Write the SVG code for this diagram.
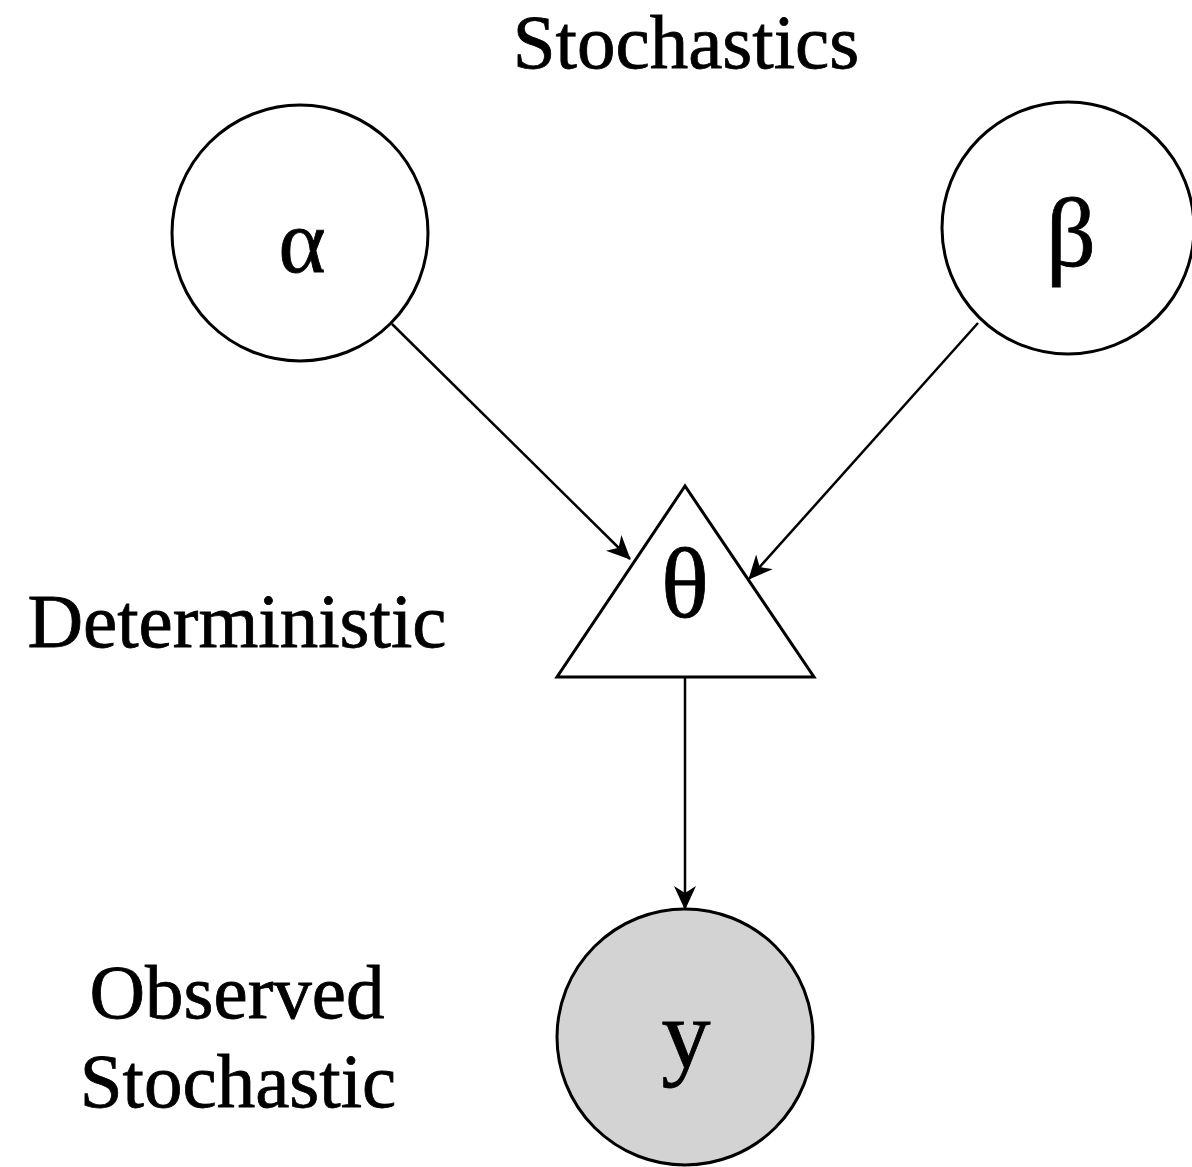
<svg xmlns="http://www.w3.org/2000/svg" width="1192" height="1167" viewBox="0 0 1192 1167">
<style>
.node{fill:#fff;stroke:#000;stroke-width:3}
.obs{fill:#d3d3d3;stroke:#000;stroke-width:3}
.edge{fill:none;stroke:#000;stroke-width:2.5}
text{font-family:"Liberation Serif","Times New Roman",serif;fill:#000;stroke:#000;stroke-width:0.8}
.lbl{font-size:77px}
.sym{text-anchor:middle}
</style>
<defs>
<marker id="arr" markerWidth="24" markerHeight="22" refX="23" refY="11" orient="auto" markerUnits="userSpaceOnUse" viewBox="0 0 24 22">
<path d="M0,0 L24,11 L0,22 L7,11 Z" fill="#000"/>
</marker>
</defs>
<rect width="1192" height="1167" fill="#fff"/>
<g id="connectors">
<line class="edge" x1="392" y1="324" x2="630" y2="559" marker-end="url(#arr)"/>
<line class="edge" x1="978" y1="323" x2="749" y2="579" marker-end="url(#arr)"/>
<line class="edge" x1="685" y1="677" x2="685" y2="909" marker-end="url(#arr)"/>
</g>
<g id="alpha">
<circle class="node" cx="300" cy="233" r="128"/>
<text class="sym" x="302" y="272" font-size="90">α</text>
</g>
<g id="beta">
<circle class="node" cx="1068" cy="228" r="126"/>
<text class="sym" x="1071" y="266" font-size="98">β</text>
</g>
<g id="theta">
<polygon class="node" points="685,486 557,677 814,677"/>
<text class="sym" x="685" y="617" font-size="100">θ</text>
</g>
<g id="y">
<circle class="obs" cx="685" cy="1037" r="128"/>
<text class="sym" x="686" y="1067" font-size="98">y</text>
</g>
<g id="labels">
<text class="lbl" x="686" y="68" text-anchor="middle">Stochastics</text>
<text class="lbl" x="237" y="647" text-anchor="middle">Deterministic</text>
<text class="lbl" x="237" y="1018" text-anchor="middle">Observed</text>
<text class="lbl" x="238" y="1107" text-anchor="middle">Stochastic</text>
</g>
</svg>
